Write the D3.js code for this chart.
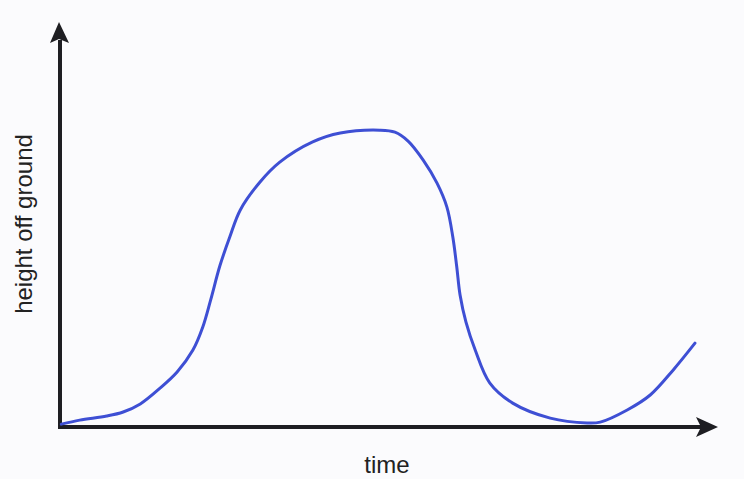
<!DOCTYPE html>
<html>
<head>
<meta charset="utf-8">
<script src="https://cdn.jsdelivr.net/npm/d3@7"></script>
<style>
  html, body { margin: 0; padding: 0; background: #fbfbfd; }
  svg { display: block; }
</style>
</head>
<body>
<svg id="chart" width="744" height="479"></svg>
<script>
// Sketched curve: time (0..10) vs height off ground (0..10)
const time = [0.02, 0.30, 0.71, 0.96, 1.22, 1.52, 1.78, 2.02, 2.17, 2.29, 2.43, 2.58, 2.74, 3.04, 3.34, 3.84, 4.26, 4.86, 5.09, 5.29, 5.52, 5.73, 5.88, 5.97, 6.03, 6.08, 6.17, 6.31, 6.53, 6.88, 7.45, 8.01, 8.21, 8.62, 8.97, 9.32, 9.65];
const height = [0.07, 0.17, 0.27, 0.37, 0.57, 0.96, 1.36, 1.90, 2.47, 3.14, 3.98, 4.69, 5.36, 6.05, 6.54, 7.04, 7.26, 7.33, 7.28, 7.06, 6.59, 6.02, 5.43, 4.69, 3.95, 3.26, 2.59, 1.90, 1.09, 0.59, 0.22, 0.10, 0.12, 0.42, 0.79, 1.41, 2.07];
const xLabel = "time";
const yLabel = "height off ground";

const svg = d3.select("#chart");
const x = d3.scaleLinear().domain([0, 10]).range([60, 718]);
const y = d3.scaleLinear().domain([0, 10]).range([427, 22]);

const axisColor = "#1e1e22";

// Y axis line + arrow
svg.append("line")
  .attr("x1", x(0)).attr("x2", x(0))
  .attr("y1", y(0) + 2).attr("y2", y(10) + 18)
  .attr("stroke", axisColor).attr("stroke-width", 4);
svg.append("path")
  .attr("d", `M${x(0) - 1},${y(10)} L${x(0) - 10},${y(10) + 21} L${x(0) - 1},${y(10) + 17} L${x(0) + 9},${y(10) + 21} Z`)
  .attr("fill", axisColor);

// X axis line + arrow
svg.append("line")
  .attr("x1", x(0) - 2).attr("x2", x(10) - 16)
  .attr("y1", y(0)).attr("y2", y(0))
  .attr("stroke", axisColor).attr("stroke-width", 4);
svg.append("path")
  .attr("d", `M${x(10)},${y(0)} L${x(10) - 22},${y(0) - 10} L${x(10) - 17},${y(0)} L${x(10) - 22},${y(0) + 10} Z`)
  .attr("fill", axisColor);

// Curve
const pts = time.map((t, i) => [t, height[i]]);
const line = d3.line()
  .x(d => x(d[0]))
  .y(d => y(d[1]))
  .curve(d3.curveCatmullRom.alpha(0.5));
svg.append("path")
  .datum(pts)
  .attr("d", line)
  .attr("fill", "none")
  .attr("stroke", "#3e4fd4")
  .attr("stroke-width", 3)
  .attr("stroke-linecap", "round")
  .attr("stroke-linejoin", "round");

// Labels
svg.append("text")
  .attr("x", 387).attr("y", 473)
  .attr("text-anchor", "middle")
  .attr("font-family", "Liberation Sans, Arial, sans-serif")
  .attr("font-size", 24)
  .attr("fill", "#222")
  .text(xLabel);

svg.append("text")
  .attr("transform", "translate(32,224) rotate(-90)")
  .attr("text-anchor", "middle")
  .attr("font-family", "Liberation Sans, Arial, sans-serif")
  .attr("font-size", 24)
  .attr("fill", "#222")
  .text(yLabel);
</script>
</body>
</html>
